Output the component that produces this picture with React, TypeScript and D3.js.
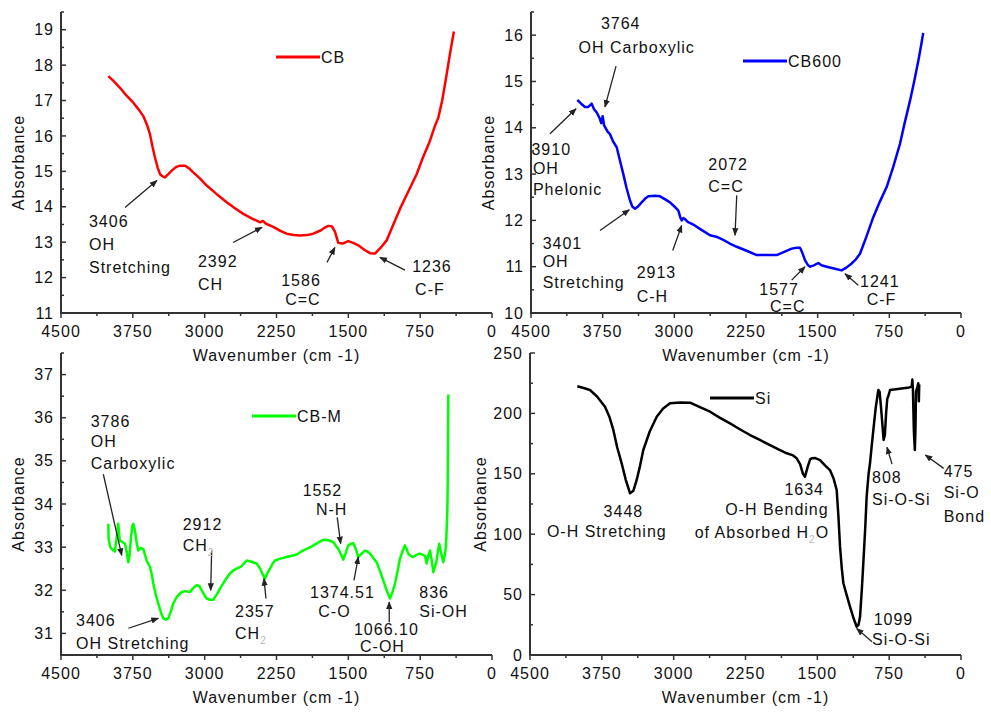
import React from "react";
import * as d3 from "d3";

type Pt = [number, number];
type Label = { t: string; x: number; y: number; anchor?: string; sub?: string; tail?: string };
type Arrow = [number, number, number, number];

const xTicks = [4500, 3750, 3000, 2250, 1500, 750, 0];
const cbTicks = [11, 12, 13, 14, 15, 16, 17, 18, 19];
const cb600Ticks = [10, 11, 12, 13, 14, 15, 16];
const cbmTicks = [31, 32, 33, 34, 35, 36, 37];
const siTicks = [0, 50, 100, 150, 200, 250];

// CB (red)
const cbData: Pt[] = [
  [4006, 17.69], [3950, 17.55], [3884, 17.36], [3820, 17.15], [3745, 16.94], [3690, 16.75],
  [3641, 16.56], [3600, 16.3], [3571, 16.05], [3545, 15.7], [3519, 15.39], [3490, 15.1],
  [3466, 14.92], [3440, 14.86], [3414, 14.83], [3380, 14.92], [3344, 15.02], [3300, 15.12],
  [3258, 15.16], [3205, 15.16], [3160, 15.08], [3119, 14.97], [3050, 14.8], [2979, 14.6],
  [2880, 14.37], [2770, 14.13], [2680, 13.95], [2597, 13.8], [2500, 13.66], [2420, 13.56],
  [2392, 13.6], [2360, 13.52], [2284, 13.43], [2210, 13.32], [2144, 13.24], [2070, 13.2],
  [2005, 13.19], [1930, 13.2], [1866, 13.24], [1790, 13.33], [1740, 13.42], [1709, 13.46],
  [1670, 13.44], [1640, 13.3], [1605, 12.98], [1560, 12.96], [1501, 13.03], [1450, 12.98],
  [1396, 12.91], [1330, 12.78], [1274, 12.69], [1222, 12.68], [1160, 12.85], [1100, 13.05],
  [1030, 13.5], [961, 13.94], [870, 14.45], [787, 14.92], [720, 15.4], [648, 15.86],
  [600, 16.25], [561, 16.51], [520, 17.0], [474, 17.73], [440, 18.3], [398, 18.95],
];

// CB600 (blue)
const cb600Data: Pt[] = [
  [4015, 14.6], [3975, 14.52], [3935, 14.45], [3900, 14.45], [3865, 14.52], [3840, 14.4],
  [3812, 14.33], [3780, 14.2], [3765, 14.1], [3750, 14.25], [3735, 14.05], [3700, 13.92],
  [3673, 13.86], [3640, 13.7], [3603, 13.58], [3570, 13.3], [3534, 13.0], [3500, 12.7],
  [3464, 12.43], [3440, 12.3], [3412, 12.25], [3380, 12.3], [3342, 12.39], [3300, 12.48],
  [3272, 12.52], [3200, 12.53], [3150, 12.52], [3100, 12.46], [3045, 12.39], [3000, 12.3],
  [2958, 12.21], [2935, 12.05], [2923, 12.0], [2905, 12.05], [2890, 12.03], [2860, 11.97],
  [2802, 11.91], [2720, 11.8], [2627, 11.68], [2550, 11.64], [2488, 11.58], [2420, 11.5],
  [2347, 11.43], [2250, 11.35], [2138, 11.25], [2030, 11.25], [1929, 11.25], [1850, 11.32],
  [1772, 11.39], [1720, 11.41], [1685, 11.41], [1660, 11.3], [1633, 11.14], [1600, 11.03],
  [1580, 11.0], [1540, 11.03], [1493, 11.08], [1460, 11.03], [1406, 11.0], [1330, 10.96],
  [1249, 10.92], [1200, 10.98], [1144, 11.07], [1100, 11.16], [1057, 11.28], [990, 11.65],
  [918, 12.07], [850, 12.4], [778, 12.72], [710, 13.15], [639, 13.65], [590, 14.1],
  [534, 14.58], [490, 15.0], [447, 15.44], [420, 15.75], [395, 16.05],
];

// CB-M (green)
const cbmData: Pt[] = [
  [4006, 33.54], [4003, 33.2], [4000, 33.16], [3985, 33.0], [3971, 32.96], [3950, 32.92],
  [3937, 32.9], [3920, 33.2], [3902, 33.54], [3893, 33.3], [3885, 33.15], [3860, 33.12],
  [3832, 33.08], [3815, 32.9], [3797, 32.65], [3785, 32.8], [3770, 33.2], [3755, 33.5],
  [3745, 33.54], [3728, 33.39], [3710, 33.1], [3693, 32.92], [3670, 32.98], [3641, 32.96],
  [3620, 32.8], [3606, 32.69], [3571, 32.54], [3550, 32.35], [3536, 32.15], [3510, 31.9],
  [3484, 31.69], [3455, 31.48], [3432, 31.35], [3405, 31.32], [3380, 31.35], [3355, 31.5],
  [3328, 31.69], [3290, 31.85], [3240, 31.96], [3200, 31.98], [3153, 31.96], [3120, 32.05],
  [3083, 32.12], [3055, 32.1], [3031, 32.0], [3000, 31.88], [2979, 31.81], [2945, 31.78],
  [2910, 31.78], [2875, 31.9], [2840, 32.04], [2790, 32.22], [2736, 32.39], [2700, 32.46],
  [2666, 32.5], [2620, 32.55], [2561, 32.69], [2510, 32.66], [2457, 32.62], [2420, 32.5],
  [2390, 32.35], [2370, 32.27], [2345, 32.4], [2318, 32.5], [2290, 32.62], [2266, 32.69],
  [2200, 32.74], [2144, 32.77], [2090, 32.8], [2040, 32.83], [1990, 32.9], [1935, 32.96],
  [1880, 33.02], [1820, 33.1], [1762, 33.17], [1710, 33.16], [1657, 33.12], [1620, 33.0],
  [1605, 32.96], [1580, 32.85], [1553, 32.71], [1530, 32.85], [1501, 33.04], [1470, 33.08],
  [1448, 33.09], [1420, 32.95], [1396, 32.77], [1360, 32.85], [1326, 32.92], [1300, 32.9],
  [1274, 32.85], [1240, 32.75], [1204, 32.65], [1170, 32.45], [1135, 32.23], [1100, 32.0],
  [1065, 31.81], [1040, 31.95], [1013, 32.15], [985, 32.45], [961, 32.73], [935, 32.9],
  [909, 33.04], [890, 32.95], [874, 32.85], [850, 32.8], [822, 32.77], [790, 32.82],
  [752, 32.85], [720, 32.82], [700, 32.8], [682, 32.62], [665, 32.8], [648, 32.92],
  [630, 32.7], [613, 32.42], [595, 32.55], [578, 32.69], [565, 32.9], [551, 33.08],
  [530, 32.85], [509, 32.65], [495, 32.8], [481, 33.0], [467, 33.78], [462, 34.5], [456, 36.54],
];

// Si (black)
const siData: Pt[] = [
  [4006, 222.5], [3940, 221], [3874, 219.4], [3800, 214], [3717, 205.5], [3670, 197],
  [3630, 186.3], [3590, 172], [3543, 158.7], [3500, 145], [3456, 133.9], [3420, 136],
  [3386, 144.9], [3350, 157], [3317, 169.7], [3250, 185], [3177, 197.3], [3110, 204],
  [3038, 208.4], [2930, 209], [2829, 208.9], [2720, 205], [2620, 201.4], [2520, 196.5],
  [2412, 191.8], [2300, 186.5], [2203, 182.1], [2100, 178], [1994, 173.8], [1900, 170],
  [1820, 167], [1760, 165.5], [1716, 162.8], [1680, 158], [1650, 150], [1629, 147.6],
  [1600, 156], [1575, 162], [1559, 162.8], [1520, 163], [1472, 161.4], [1420, 157],
  [1368, 153.1], [1330, 146], [1298, 136.6], [1280, 115], [1263, 89.7], [1245, 72],
  [1228, 59.4], [1195, 50], [1159, 40], [1120, 30], [1089, 23.4], [1070, 25], [1054, 31.7],
  [1035, 55], [1020, 75.9], [1000, 105], [985, 131.1], [965, 150], [950, 158.7], [930, 175],
  [915, 186.3], [890, 205], [863, 219.4], [850, 218], [835, 205], [820, 190], [808, 178],
  [795, 182], [782, 200], [770, 212], [756, 215], [741, 219.4], [680, 220], [602, 220.8],
  [540, 221.5], [515, 222.2], [508, 228], [502, 220], [492, 185], [482, 169.7], [476, 185],
  [470, 218], [455, 222], [446, 225], [440, 210], [436, 224],
];

const cbLabels: Label[] = [
  { t: "3406", x: 4208, y: 13.42 }, { t: "OH", x: 4208, y: 12.77 }, { t: "Stretching", x: 4208, y: 12.12 },
  { t: "2392", x: 3070, y: 12.29 }, { t: "CH", x: 3070, y: 11.65 },
  { t: "1586", x: 1994, y: 11.76, anchor: "middle" }, { t: "C=C", x: 1974, y: 11.22, anchor: "middle" },
  { t: "1236", x: 627, y: 12.15, anchor: "middle" }, { t: "C-F", x: 648, y: 11.51, anchor: "middle" },
];
const cbArrows: Arrow[] = [
  [3832, 13.98, 3498, 14.74], [2704, 12.99, 2402, 13.42], [1723, 12.43, 1640, 12.85], [909, 12.21, 1170, 12.57],
];

const cb600Labels: Label[] = [
  { t: "3764", x: 3561, y: 16.13, anchor: "middle" }, { t: "OH Carboxylic", x: 3394, y: 15.61, anchor: "middle" },
  { t: "3910", x: 4495, y: 13.42 }, { t: "OH", x: 4480, y: 13.01 }, { t: "Phelonic", x: 4480, y: 12.54 },
  { t: "3401", x: 4378, y: 11.39 }, { t: "OH", x: 4378, y: 11.0 }, { t: "Stretching", x: 4378, y: 10.55 },
  { t: "2913", x: 3394, y: 10.75 }, { t: "C-H", x: 3394, y: 10.24 },
  { t: "2072", x: 2645, y: 13.08 }, { t: "C=C", x: 2645, y: 12.61 },
  { t: "1577", x: 2111, y: 10.39 }, { t: "C=C", x: 1999, y: 10.03 },
  { t: "1241", x: 1057, y: 10.57 }, { t: "C-F", x: 987, y: 10.17 },
];
const cb600Arrows: Arrow[] = [
  [3610, 15.33, 3726, 14.45], [4301, 13.87, 4029, 14.41], [3778, 11.78, 3471, 12.23],
  [3017, 11.35, 2923, 11.89], [2347, 12.54, 2365, 11.68], [1772, 10.71, 1633, 11.0], [1075, 10.6, 1214, 10.85],
];

const cbmLabels: Label[] = [
  { t: "3786", x: 4190, y: 35.79 }, { t: "OH", x: 4190, y: 35.31 }, { t: "Carboxylic", x: 4190, y: 34.81 },
  { t: "2912", x: 3229, y: 33.39 }, { t: "CH", sub: "2", x: 3229, y: 32.92 },
  { t: "3406", x: 4343, y: 31.17 }, { t: "OH Stretching", x: 4343, y: 30.65 },
  { t: "2357", x: 2683, y: 31.37 }, { t: "CH", sub: "2", x: 2683, y: 30.88 },
  { t: "1552", x: 1977, y: 34.19 }, { t: "N-H", x: 1838, y: 33.75 },
  { t: "1374.51", x: 1900, y: 31.81 }, { t: "C-O", x: 1814, y: 31.38 },
  { t: "1066.10", x: 1441, y: 30.96 }, { t: "C-OH", x: 1378, y: 30.56 },
  { t: "836", x: 759, y: 31.81 }, { t: "Si-OH", x: 759, y: 31.38 },
];
const cbmArrows: Arrow[] = [
  [4058, 34.69, 3866, 32.81], [2927, 32.92, 2937, 32.0], [3797, 31.12, 3484, 31.35],
  [2360, 31.81, 2381, 32.27], [1616, 33.69, 1580, 33.08], [1441, 32.23, 1396, 32.77], [1073, 31.26, 1073, 31.73],
];

const siLabels: Label[] = [
  { t: "3448", x: 3525, y: 114.5, anchor: "middle" }, { t: "O-H Stretching", x: 3698, y: 97.9, anchor: "middle" },
  { t: "1634", x: 1637, y: 132.5, anchor: "middle" }, { t: "O-H Bending", x: 1922, y: 115.9, anchor: "middle" },
  { t: "of Absorbed H", sub: "2", tail: "O", x: 2079, y: 96.6, anchor: "middle" },
  { t: "808", x: 929, y: 142.1 }, { t: "Si-O-Si", x: 929, y: 124.2 },
  { t: "475", x: 181, y: 147.6 }, { t: "Si-O", x: 181, y: 129.7 }, { t: "Bond", x: 181, y: 110.3 },
  { t: "1099", x: 912, y: 24.8 }, { t: "Si-O-Si", x: 929, y: 8.3 },
];
const siArrows: Arrow[] = [[720, 158, 773, 172], [181, 154.5, 373, 165.6], [929, 11, 1089, 22]];

const FONT = "'Liberation Sans', Arial, sans-serif";
const TXT = "#111";

const panels = [
  { id: "cb", left: 61, right: 492, top: 12, bottom: 313, yDomain: [11, 19.5], yTicks: cbTicks, minor: 0.5,
    data: cbData, color: "#ff0000", name: "CB", leg: [215, 45], yTitleX: 18, labels: cbLabels, arrows: cbArrows },
  { id: "cb600", left: 531, right: 961, top: 12, bottom: 313, yDomain: [10, 16.5], yTicks: cb600Ticks, minor: 0.5,
    data: cb600Data, color: "#0000ff", name: "CB600", leg: [212, 49], yTitleX: 488, labels: cb600Labels, arrows: cb600Arrows },
  { id: "cbm", left: 61, right: 492, top: 353, bottom: 655, yDomain: [30.5, 37.5], yTicks: cbmTicks, minor: 0.5,
    data: cbmData, color: "#00ff00", name: "CB-M", leg: [191, 63], yTitleX: 18, labels: cbmLabels, arrows: cbmArrows },
  { id: "si", left: 530, right: 961, top: 353, bottom: 655, yDomain: [0, 250], yTicks: siTicks, minor: 25,
    data: siData, color: "#000000", name: "Si", leg: [180, 45], yTitleX: 480, labels: siLabels, arrows: siArrows },
];

function Panel({ p }: { p: any }) {
  const x = d3.scaleLinear().domain([4500, 0]).range([p.left, p.right]);
  const y = d3.scaleLinear().domain(p.yDomain).range([p.bottom, p.top]);
  const line = d3.line<Pt>().x((d) => x(d[0])).y((d) => y(d[1]));
  const xMinor = d3.range(4125, 0, -750);
  const yMinor = d3.range(p.yDomain[0], p.yDomain[1] + 1e-9, p.minor).filter((v: number) => !p.yTicks.includes(+v.toFixed(4)));
  const txt = { fontFamily: FONT, fontSize: 16, letterSpacing: 1, fill: TXT };
  const midX = (p.left + p.right) / 2;
  const midY = (p.top + p.bottom) / 2;
  return (
    <g>
      {/* axes */}
      <path d={`M${p.left},${p.top}V${p.bottom}H${p.right}`} fill="none" stroke="#333" strokeWidth={2} />
      {xTicks.map((t) => (
        <g key={"xt" + t}>
          <line x1={x(t)} x2={x(t)} y1={p.bottom} y2={p.bottom + 5} stroke="#333" strokeWidth={1.5} />
          <text x={x(t)} y={p.bottom + 24} textAnchor="middle" {...txt}>{t}</text>
        </g>
      ))}
      {xMinor.map((t) => (
        <line key={"xm" + t} x1={x(t)} x2={x(t)} y1={p.bottom} y2={p.bottom + 3} stroke="#333" strokeWidth={1.5} />
      ))}
      {p.yTicks.map((t: number) => (
        <g key={"yt" + t}>
          <line x1={p.left} x2={p.left + 5} y1={y(t)} y2={y(t)} stroke="#333" strokeWidth={1.5} />
          <text x={p.left - 7} y={y(t)} dy="0.35em" textAnchor="end" {...txt}>{t}</text>
        </g>
      ))}
      {yMinor.map((t: number) => (
        <line key={"ym" + t} x1={p.left} x2={p.left + 3} y1={y(t)} y2={y(t)} stroke="#333" strokeWidth={1.5} />
      ))}
      <text x={midX} y={p.bottom + 48} textAnchor="middle" {...txt}>Wavenumber (cm -1)</text>
      <text transform={`translate(${p.yTitleX},${midY}) rotate(-90)`} dy="0.35em" textAnchor="middle" {...txt}>Absorbance</text>

      {/* series */}
      <path d={line(p.data) || ""} fill="none" stroke={p.color} strokeWidth={2.5} strokeLinejoin="round" />

      {/* legend */}
      <line x1={p.left + p.leg[0]} x2={p.left + p.leg[0] + 44} y1={p.top + p.leg[1]} y2={p.top + p.leg[1]} stroke={p.color} strokeWidth={3} />
      <text x={p.left + p.leg[0] + 45} y={p.top + p.leg[1] + 6} {...txt}>{p.name}</text>

      {/* annotations */}
      {p.arrows.map((a: Arrow, i: number) => (
        <line key={"ar" + i} x1={x(a[0])} y1={y(a[1])} x2={x(a[2])} y2={y(a[3])} stroke="#222" strokeWidth={1.3} markerEnd="url(#arrowHead)" />
      ))}
      {p.labels.map((l: Label, i: number) => (
        <text key={"lb" + i} x={x(l.x)} y={y(l.y)} textAnchor={l.anchor || "start"} {...txt}>
          {l.t}
          {l.sub && <tspan dy={5} fontSize={10} fill="#bbb">{l.sub}</tspan>}
          {l.tail && <tspan dy={-5}>{l.tail}</tspan>}
        </text>
      ))}
    </g>
  );
}

export default function App() {
  return (
    <svg width={991} height={713} style={{ position: "absolute", left: 0, top: 0, background: "#fff" }}>
      <defs>
        <marker id="arrowHead" viewBox="0 0 10 10" refX="9" refY="5" markerWidth="6" markerHeight="6" orient="auto">
          <path d="M0,1 L10,5 L0,9 z" fill="#222" />
        </marker>
      </defs>
      <rect width={991} height={713} fill="#fff" />
      {panels.map((p) => <Panel key={p.id} p={p} />)}
    </svg>
  );
}
